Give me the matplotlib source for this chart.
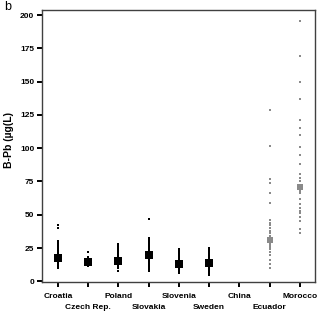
import matplotlib
matplotlib.use("Agg")
import matplotlib.pyplot as plt

# countries in plotting order
countries = ["Croatia", "Czech Rep.", "Poland", "Slovakia", "Slovenia",
             "Sweden", "China", "Ecuador", "Morocco"]

# blood lead values (ug/L)
croatia = [42, 40, 30, 29, 28, 27, 26, 25, 24, 23, 22, 21, 20, 19, 18, 17,
           16, 15, 14, 13, 12, 11, 10]
czech = [22, 18, 17.5, 17, 16.5, 16, 15.5, 15, 14.5, 14, 13.5, 13, 12.5, 12, 11.5]
poland = [28, 27, 26, 25, 24, 23, 22, 21, 20, 19, 18, 17, 16, 15, 14, 13, 12,
          11, 10, 8]
slovakia = [47, 32.5, 31, 30, 29, 28, 27, 26, 25, 24, 23, 22, 21, 20, 19, 18,
            17, 16, 15, 14, 13, 12, 11, 10, 9, 7.5]
slovenia = [24, 23, 22, 21, 20, 19, 18, 17, 16, 15, 14, 13, 12, 11, 10, 9, 8,
            7, 6]
sweden = [25, 23.5, 22, 20.5, 19, 18, 17, 16, 15, 14, 13, 12, 11, 10, 9, 7.5, 6, 5]
china = []
ecuador = [129, 102, 77, 74, 66, 59, 46, 44, 42, 40, 38, 36, 34, 32, 31, 30,
           29, 28, 27, 26, 24, 22, 20, 16, 13, 10]
morocco = [196, 169, 150, 137, 121, 115, 110, 101, 95, 88, 81, 78, 75, 71, 68,
           66, 62, 58, 55, 53, 51, 48, 45, 39, 36]

groups = [croatia, czech, poland, slovakia, slovenia, sweden, china, ecuador, morocco]
medians = [17.5, 14.8, 15.5, 19.5, 13.3, 13.8, None, 31, 71]
colours = ["black"] * 7 + ["#8a8a8a", "#8a8a8a"]

plt.rcParams['font.family'] = ['Liberation Sans', 'DejaVu Sans']

fig = plt.figure(figsize=(3.2, 3.2), dpi=100)
ax = fig.add_axes([0.131, 0.119, 0.853, 0.85])

for i, vals in enumerate(groups):
    pos = i + 1
    if vals:
        ax.plot([pos] * len(vals), vals, linestyle="none", marker="s",
                markersize=1.8, color=colours[i], markeredgewidth=0)
    if medians[i] is not None:
        ms = 6 if i < 7 else 5
        ax.plot([pos], [medians[i]], linestyle="none", marker="s",
                markersize=ms, color=colours[i], markeredgewidth=0)

ax.set_xlim(0.47, 9.5)
ax.set_ylim(-0.5, 204)
ax.set_yticks(range(0, 201, 25))
ax.set_xticks(range(1, 10))
ax.set_xticklabels([])
for lab in ax.get_yticklabels():
    lab.set_fontsize(6)
    lab.set_fontweight("bold")

# staggered country names under the ticks
for i, c in enumerate(countries):
    off = -8 if i % 2 == 0 else -16
    ax.annotate(c, xy=(i + 1, 0), xycoords=("data", "axes fraction"),
                xytext=(0, off), textcoords="offset points",
                ha="center", va="top", fontsize=6, fontweight="bold")

ax.tick_params(axis="both", direction="out", length=3.5, width=1.4,
               color="black", pad=2)
for sp in ax.spines.values():
    sp.set_color("#404040")
    sp.set_linewidth(1)

ax.set_ylabel("B-Pb (µg(L)", fontsize=7.5, fontweight="bold")
ax.yaxis.set_label_coords(-0.104, 0.52)

fig.text(0.012, 0.998, "b", fontsize=9, va="top", ha="left")

fig.savefig("out.png", dpi=100)
